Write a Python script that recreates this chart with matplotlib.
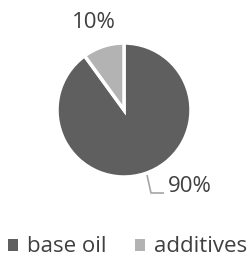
import matplotlib
matplotlib.use("Agg")
import matplotlib.pyplot as plt
from matplotlib.patches import Patch

categories = ["base oil", "additives"]
values = [90, 10]
labels = ["90%", "10%"]
colors = ["#5f5f5f", "#b3b3b3"]

plt.rcParams['font.family'] = ['Open Sans', 'DejaVu Sans']
W, H = 250, 257
fig = plt.figure(figsize=(2.5, 2.57), dpi=100)
ax = fig.add_axes([0, 0, 1, 1])

cx, cy, r = 124, H - 110, 67
wedges, _ = ax.pie(values, colors=colors, startangle=90, counterclock=False,
                   center=(cx, cy), radius=r,
                   wedgeprops=dict(edgecolor='white', linewidth=2.5), frame=True)
ax.set_xlim(0, W)
ax.set_ylim(0, H)
ax.set_aspect('equal')
ax.axis('off')

txtc = "#404040"
ax.text(94, H - 23, labels[1], ha='center', va='center', fontsize=16, color=txtc)
ax.text(190, H - 186, labels[0], ha='center', va='center', fontsize=16, color=txtc)
ax.plot([147, 151, 164], [H - 175, H - 193, H - 193], color="#a6a6a6", lw=1.2,
        solid_capstyle='butt')

handles = [Patch(facecolor=c, edgecolor='none') for c in colors]
leg = fig.legend(handles, categories, loc='center', bbox_to_anchor=(0.51, 1 - 247/257),
                 ncol=2, frameon=False, fontsize=16, handlelength=0.45, handleheight=0.45,
                 handletextpad=0.4, columnspacing=1.3, labelcolor=txtc,
                 borderpad=0, borderaxespad=0)

fig.savefig("out.png", dpi=100)
